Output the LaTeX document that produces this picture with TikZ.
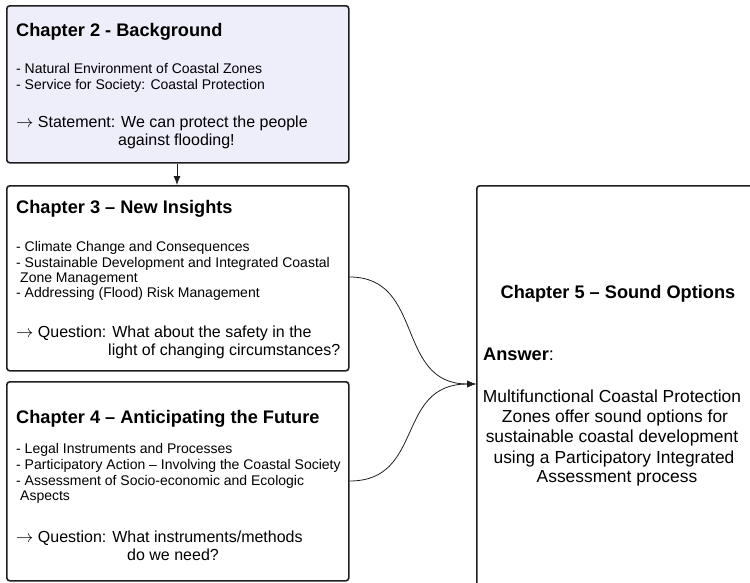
\documentclass[tikz,border=0pt]{standalone}
\usepackage{fontspec}
\setmainfont{Liberation Sans}
\usetikzlibrary{arrows.meta,calc}
\definecolor{bgfill}{RGB}{238,237,250}
\definecolor{edge}{RGB}{30,30,30}
\begin{document}
\begin{tikzpicture}[x=1pt,y=-1pt,
  chapbox/.style={draw=edge,line width=1.6pt,rounded corners=3pt,inner sep=0pt,anchor=north west},
  ttl/.style={anchor=base west,inner sep=0pt,font=\fontsize{18.2}{21}\selectfont\bfseries},
  item/.style={anchor=base west,inner sep=0pt,font=\fontsize{14}{16}\selectfont},
  quest/.style={anchor=base west,inner sep=0pt,font=\fontsize{16}{18}\selectfont},
  ans/.style={anchor=base,inner sep=0pt,font=\fontsize{17.4}{20}\selectfont},
  link/.style={draw=edge,line width=0.8pt,-{Latex[length=9pt,width=7pt]}}]
\useasboundingbox (0,0) rectangle (750,582);

% chapter boxes
\node[chapbox,fill=bgfill,minimum width=342pt,minimum height=157pt] (c2) at (6,5) {};
\node[chapbox,minimum width=342pt,minimum height=185pt] (c3) at (6,185) {};
\node[chapbox,minimum width=342pt,minimum height=199pt] (c4) at (6,381) {};
\node[chapbox,minimum width=290pt,minimum height=420pt] (c5) at (476,185) {};

% Chapter 2
\node[ttl] (t2) at (16,36) {Chapter 2 - Background};
\node[item] (i2a) at (16,73) {- Natural Environment of Coastal Zones};
\node[item] (i2b) at (16,89) {- Service for Society: Coastal Protection};
\node[quest] (q2a) at (16,127) {$\rightarrow$ Statement: We can protect the people};
\node[quest] (q2b) at (118,145) {against flooding!};

% Chapter 3
\node[ttl] (t3) at (16,213) {Chapter 3 -- New Insights};
\node[item] (i3a) at (16,251) {- Climate Change and Consequences};
\node[item] (i3b) at (16,267) {- Sustainable Development and Integrated Coastal};
\node[item] (i3c) at (20,282) {Zone Management};
\node[item] (i3d) at (16,297) {- Addressing (Flood) Risk Management};
\node[quest] (q3a) at (16,337) {$\rightarrow$ Question: What about the safety in the};
\node[quest] (q3b) at (108,355) {light of changing circumstances?};

% Chapter 4
\node[ttl] (t4) at (16,423) {Chapter 4 -- Anticipating the Future};
\node[item] (i4a) at (16,453) {- Legal Instruments and Processes};
\node[item] (i4b) at (16,469) {- Participatory Action -- Involving the Coastal Society};
\node[item] (i4c) at (16,485) {- Assessment of Socio-economic and Ecologic};
\node[item] (i4d) at (20,500) {Aspects};
\node[quest] (q4a) at (16,542) {$\rightarrow$ Question: What instruments/methods};
\node[quest] (q4b) at (127,560) {do we need?};

% Chapter 5
\node[ttl,anchor=base] (t5) at (618,298) {Chapter 5 -- Sound Options};
\node[ttl,anchor=base west] (a5) at (483,360) {Answer\mdseries:};
\node[ans] (l5a) at (612,402) {Multifunctional Coastal Protection};
\node[ans] (l5b) at (615,422) {Zones offer sound options for};
\node[ans] (l5c) at (612,442) {sustainable coastal development};
\node[ans] (l5d) at (614,463) {using a Participatory Integrated};
\node[ans] (l5e) at (617,482) {Assessment process};

% connectors
\coordinate (p3) at (c3.east |- 0,277);
\coordinate (p4) at (c4.east |- 0,481);
\coordinate (p5) at (c5.west |- 0,384);
\draw[link] (c2.south -| 177,0) -- (c3.north -| 177,0);
\draw[link] (p3) .. controls (425,277) and (395,384) .. (p5);
\draw[link] (p4) .. controls (425,481) and (395,384) .. (p5);
\end{tikzpicture}
\end{document}
